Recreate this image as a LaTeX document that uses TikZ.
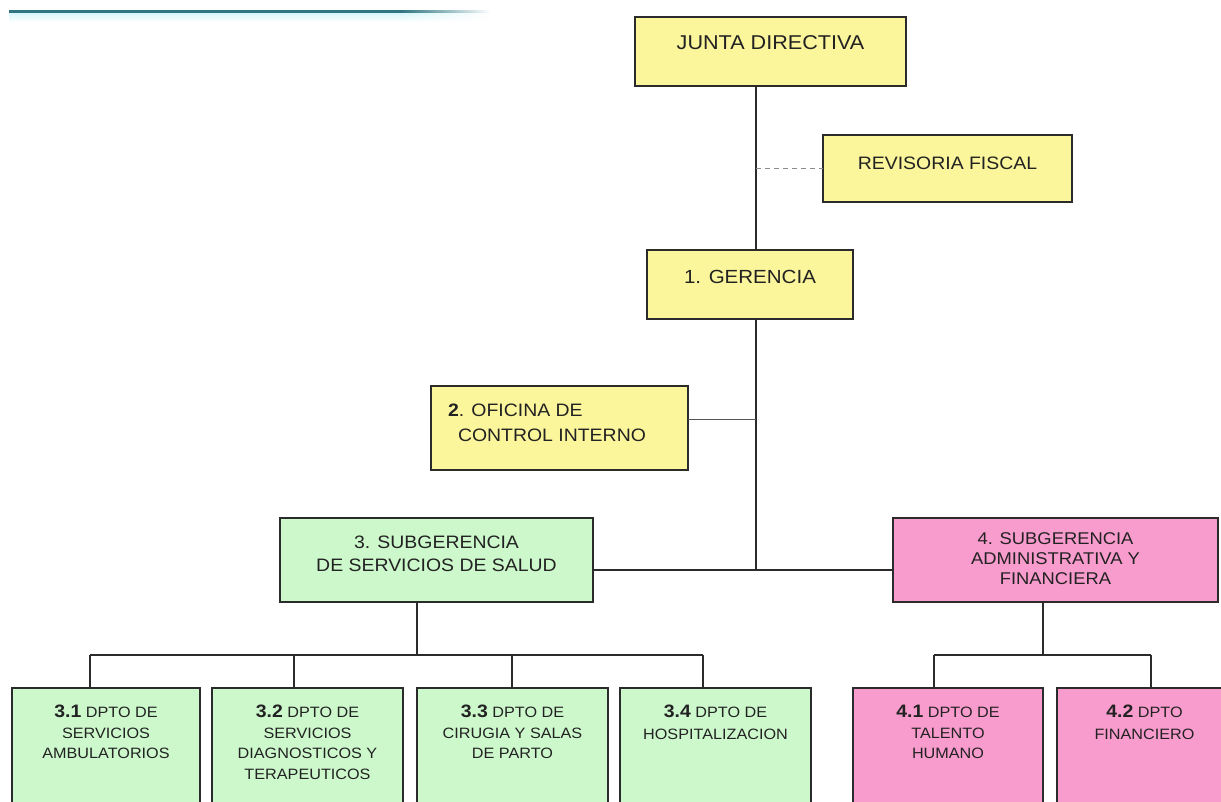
\documentclass[tikz,border=0pt]{standalone}
\usepackage{fontspec}
\setmainfont{Liberation Sans}[FakeStretch=1.08]
\usetikzlibrary{fadings}
\definecolor{yel}{HTML}{FBF59B}
\definecolor{grn}{HTML}{CCF8CC}
\definecolor{pnk}{HTML}{F89BCD}
\definecolor{edgecol}{HTML}{2B2B2B}
\definecolor{txtcol}{HTML}{222222}
\definecolor{barteal}{HTML}{2F7480}
\definecolor{barlight}{HTML}{D6F5F8}
% width, height, font size, line skip, first-baseline offset, text
\newcommand\bt[6]{\parbox[c][#2][t]{#1}{\fontsize{#3}{#4}\selectfont\centering\color{txtcol}\rule{0pt}{#5}#6}}
\newcommand\nb[1]{\textbf{\fontsize{18}{20.5}\selectfont #1}}
\begin{document}
\begin{tikzpicture}[x=1pt,y=-1pt,
  box/.style={draw=edgecol,line width=1.4pt,inner sep=0pt,outer sep=0pt},
  conn/.style={draw=edgecol,line width=1.4pt},
  thinconn/.style={draw=edgecol!80,line width=0.9pt},
  dashline/.style={draw=gray!90,line width=1pt,dash pattern=on 5pt off 4pt}]
\useasboundingbox (0,0) rectangle (1221,801);
\clip (0,0) rectangle (1221,801);
\fill[white] (0,0) rectangle (1221,801);
% top decorative bar
\shade[top color=barlight,bottom color=white] (9,12.5) rectangle (400,22);
\shade[top color=barlight,bottom color=white,path fading=east] (400,12.5) rectangle (490,22);
\fill[barteal] (9,9.5) rectangle (400,12.5);
\fill[barteal,path fading=east] (400,9.5) rectangle (490,12.5);

% boxes
\node[box,fill=yel] (junta) at (770.5,51.5) {\bt{271pt}{69pt}{20}{24}{32pt}{JUNTA DIRECTIVA}};
\node[box,fill=yel] (revisoria) at (947.5,168.5) {\bt{249pt}{67pt}{18}{22}{34pt}{REVISORIA FISCAL}};
\node[box,fill=yel] (gerencia) at (750,284.5) {\bt{206pt}{69pt}{19}{22}{33.5pt}{1. GERENCIA}};
\node[box,fill=yel] (oficina) at (559.5,428) {\parbox[c][84pt][t]{257pt}{\fontsize{18}{25}\selectfont\raggedright\color{txtcol}\rule{0pt}{30.5pt}\hspace*{17pt}\textbf{2}. OFICINA DE\\\hspace*{27pt}CONTROL INTERNO}};
\node[box,fill=grn] (s3) at (436.5,560) {\bt{313pt}{84pt}{18}{23}{30.5pt}{3. SUBGERENCIA\\DE SERVICIOS DE SALUD}};
\node[box,fill=pnk] (s4) at (1055.5,560) {\bt{325pt}{84pt}{17}{20}{26.3pt}{4. SUBGERENCIA\\ADMINISTRATIVA Y\\FINANCIERA}};

\node[box,fill=grn] (d31) at (106,749) {\bt{188pt}{122pt}{15}{20.5}{29.5pt}{\nb{3.1} DPTO DE\\SERVICIOS\\AMBULATORIOS}};
\node[box,fill=grn] (d32) at (307.5,749) {\bt{191pt}{122pt}{15}{20.5}{29.5pt}{\nb{3.2} DPTO DE\\SERVICIOS\\DIAGNOSTICOS Y\\TERAPEUTICOS}};
\node[box,fill=grn] (d33) at (512.5,749) {\bt{191pt}{122pt}{15}{20.5}{29.5pt}{\nb{3.3} DPTO DE\\CIRUGIA Y SALAS\\DE PARTO}};
\node[box,fill=grn] (d34) at (715.5,749) {\bt{191pt}{122pt}{15}{21.5}{29.5pt}{\nb{3.4} DPTO DE\\HOSPITALIZACION}};
\node[box,fill=pnk] (d41) at (948,749) {\bt{190pt}{122pt}{15}{20.5}{29.5pt}{\nb{4.1} DPTO DE\\TALENTO\\HUMANO}};
\node[box,fill=pnk] (d42) at (1144.5,749) {\bt{175pt}{122pt}{15}{21.5}{29.5pt}{\nb{4.2} DPTO\\FINANCIERO}};

% connector helper coordinates
\coordinate (spine) at (756,0);
\coordinate (jn) at (756,570);
\coordinate (ofy) at (0,419);
\coordinate (b3) at (417,655);
\coordinate (c31) at (90,655);
\coordinate (c32) at (294,655);
\coordinate (c33) at (512,655);
\coordinate (c34) at (703,655);
\coordinate (b4) at (1043,655);
\coordinate (c41) at (934,655);
\coordinate (c42) at (1151,655);

% connectors
\draw[conn] (junta.south -| spine) -- (gerencia.north -| spine);
\draw[dashline] (revisoria.west -| spine) -- (revisoria.west);
\draw[conn] (gerencia.south -| spine) -- (jn);
\draw[thinconn] (oficina.east |- ofy) -- (ofy -| spine);
\draw[conn] (s3.east |- jn) -- (s4.west |- jn);
\draw[conn] (s3.south -| b3) -- (b3);
\draw[conn] (c31) -- (c34);
\draw[conn] (c31) -- (d31.north -| c31);
\draw[conn] (c32) -- (d32.north -| c32);
\draw[conn] (c33) -- (d33.north -| c33);
\draw[conn] (c34) -- (d34.north -| c34);
\draw[conn] (s4.south -| b4) -- (b4);
\draw[conn] (c41) -- (c42);
\draw[conn] (c41) -- (d41.north -| c41);
\draw[conn] (c42) -- (d42.north -| c42);
\end{tikzpicture}
\end{document}
